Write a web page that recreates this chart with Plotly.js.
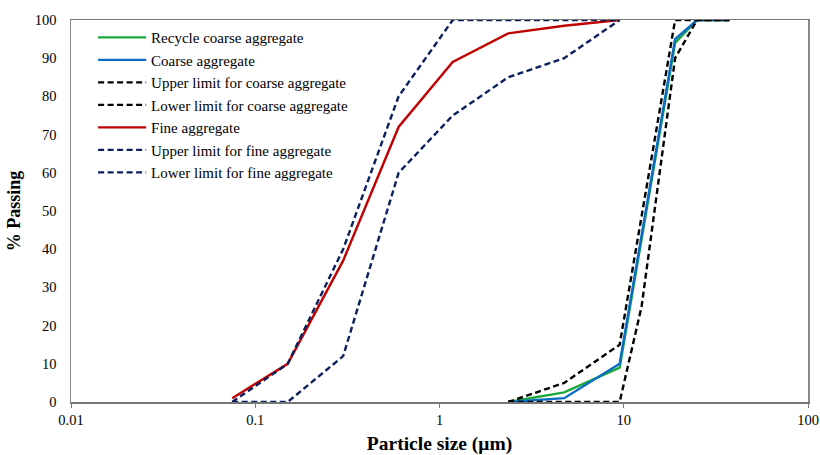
<!DOCTYPE html>
<html>
<head>
<meta charset="utf-8">
<script src="https://cdn.plot.ly/plotly-3.0.1.min.js"></script>
<style>html,body{margin:0;padding:0;background:#fff;}#chart{width:820px;height:455px;}</style>
</head>
<body>
<div id="chart"></div>
<script>
// Sieve sizes
const coarseSizes = [2.36, 4.75, 9.5, 19, 25, 37.5];
const recycleCoarse = [0, 2.5, 9, 94, 100, 100];
const coarseAgg = [0, 1, 10, 95, 100, 100];
const coarseUpperSizes = [2.36, 4.75, 9.5, 19, 25, 37.5];
const coarseUpper = [0, 5, 15, 100, 100, 100];
const coarseLowerSizes = [2.36, 4.75, 9.5, 12.5, 19, 25, 37.5];
const coarseLower = [0, 0, 0, 25, 90, 100, 100];
const fineSizes = [0.075, 0.15, 0.3, 0.6, 1.18, 2.36, 4.75, 9.5];
const fineAgg = [1, 10, 37, 72, 89, 96.5, 98.5, 100];
const fineUpper = [0, 10, 40, 80, 100, 100, 100, 100];
const fineLower = [0, 0, 12, 60, 75, 85, 90, 100];
const xTickVals = [0.01, 0.1, 1, 10, 100];
const xTickText = ['0.01', '0.1', '1', '10', '100'];

const serif = 'Liberation Serif, Times New Roman, serif';
const dash = '6px,3.5px';
function tr(name, x, y, color, dashed, g) {
  return {x: x, y: y, name: name, type: 'scatter', mode: 'lines', legendgroup: g,
    line: {color: color, width: 2.4, dash: dashed ? dash : 'solid'}};
}
const data = [
  tr('Recycle coarse aggregate', coarseSizes, recycleCoarse, '#1BA83A', false, 'a'),
  tr('Coarse aggregate', coarseSizes, coarseAgg, '#0B6CC4', false, 'b'),
  tr('Upper limit for coarse aggregate', coarseUpperSizes, coarseUpper, '#000000', true, 'c'),
  tr('Lower limit for coarse aggregate', coarseLowerSizes, coarseLower, '#000000', true, 'd'),
  tr('Fine aggregate', fineSizes, fineAgg, '#C00000', false, 'e'),
  tr('Upper limit for fine aggregate', fineSizes, fineUpper, '#0A1F5C', true, 'f'),
  tr('Lower limit for fine aggregate', fineSizes, fineLower, '#0A1F5C', true, 'g')
];
const layout = {
  width: 820, height: 455,
  margin: {l: 71, r: 12, t: 20, b: 53},
  paper_bgcolor: '#fff', plot_bgcolor: '#fff',
  font: {family: serif, color: '#000', size: 14},
  showlegend: true,
  legend: {x: 0.03, y: 0.997, xanchor: 'left', yanchor: 'top', traceorder: 'grouped',
    itemwidth: 48, tracegroupgap: 0, font: {family: serif, size: 15, color: '#000'}, bgcolor: 'rgba(0,0,0,0)'},
  xaxis: {type: 'log', range: [-2, 2], tickvals: xTickVals, ticktext: xTickText,
    ticks: 'outside', ticklen: 4, tickcolor: '#777', showgrid: false, zeroline: false,
    showline: true, linecolor: '#777', linewidth: 1.5, mirror: true,
    tickfont: {family: serif, size: 14.5},
    title: {text: '<b>Particle size (μm)</b>', font: {family: serif, size: 19.5}, standoff: 16}},
  yaxis: {range: [0, 100], dtick: 10, ticks: '', showgrid: false, zeroline: false,
    showline: true, linecolor: '#888', linewidth: 1.5, mirror: true,
    ticklabelstandoff: 10, tickfont: {family: serif, size: 14.5},
    title: {text: '<b>% Passing</b>', font: {family: serif, size: 18}, standoff: 9}}
};
Plotly.newPlot('chart', data, layout, {displayModeBar: false, staticPlot: true});
</script>
</body>
</html>
